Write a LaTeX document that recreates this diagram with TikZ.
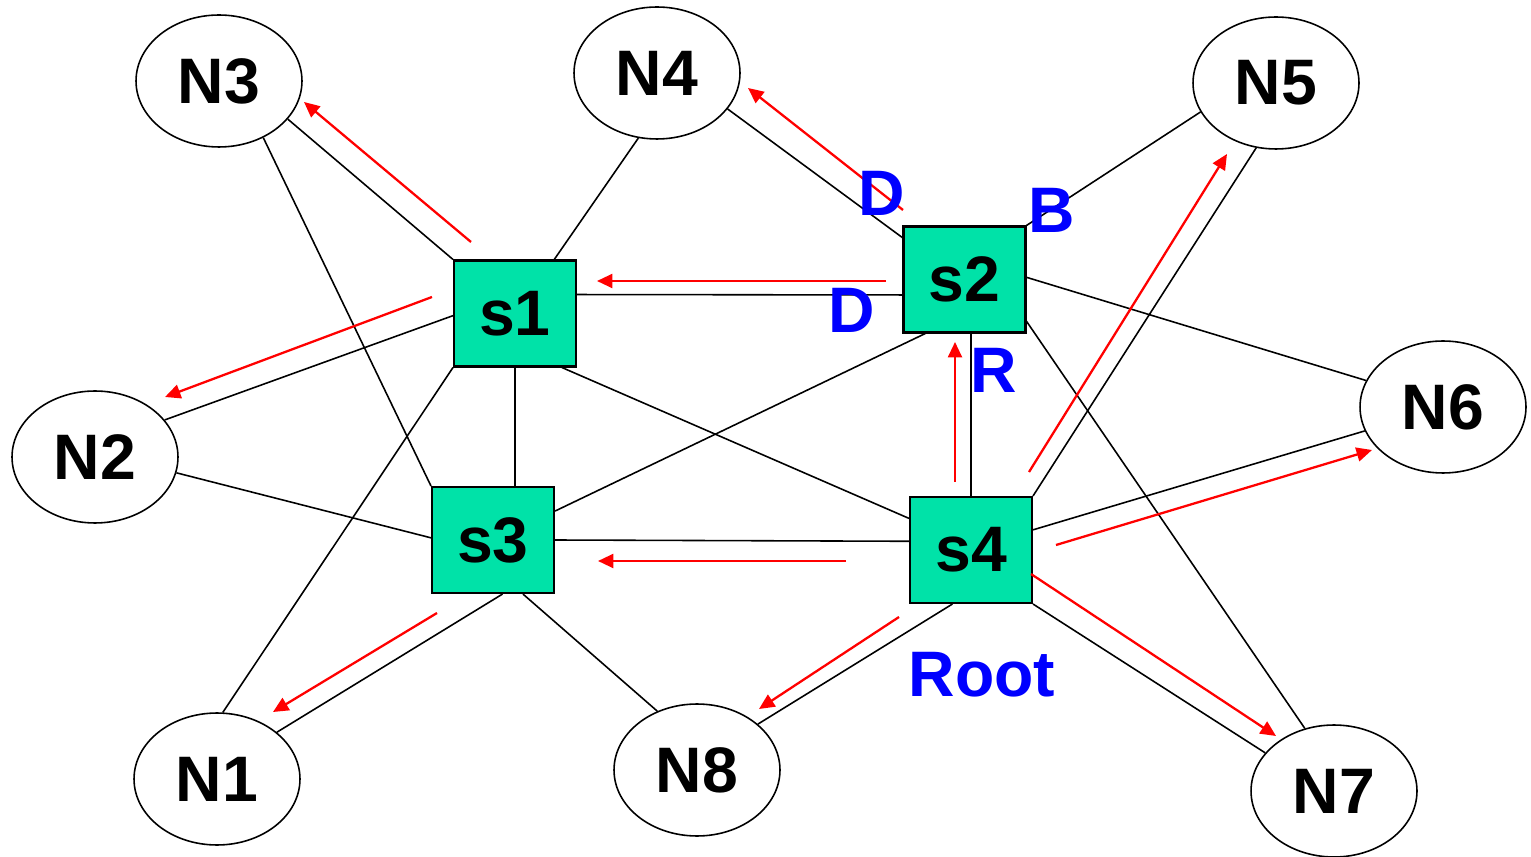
\documentclass[tikz,border=0pt]{standalone}
\usepackage{fontspec}
\setmainfont{Liberation Sans}
\usetikzlibrary{shapes.geometric}
\usetikzlibrary{arrows.meta}
\definecolor{switchgreen}{RGB}{0,226,168}

\begin{document}
\begin{tikzpicture}[x=0.02cm, y=-0.02cm,
		label font/.style={font=\fontsize{36.6}{40}\selectfont\bfseries},
		host/.style={draw, ellipse, line width=0.9pt, minimum width=3.32cm, minimum height=2.64cm, inner sep=0pt, label font},
		switch/.style={draw, rectangle, fill=switchgreen, line width=1.2pt, minimum width=2.44cm, minimum height=2.12cm, inner sep=0pt, label font},
		link/.style={line width=0.9pt},
		flow/.style={red, line width=1.3pt, -{Triangle[length=8.8pt, width=8pt]}},
		tag/.style={blue, inner sep=0pt, label font}]
		\useasboundingbox (0,0) rectangle (1531,857);
		
		\node [host] (N1) at (217,779) {N1}; % Datorerna
		\node [host] (N2) at (95,457) {N2};
		\node [host] (N3) at (219,81) {N3};
		\node [host] (N4) at (657,73) {N4};
		\node [host] (N5) at (1276,83) {N5};
		\node [host] (N6) at (1443,407) {N6};
		\node [host] (N7) at (1334,791) {N7};
		\node [host] (N8) at (697,770) {N8};
		
		\node [switch] (s1) at (515,313.5) {s1}; % Switcharna
		\node [switch] (s2) at (964.5,279.5) {s2};
		\node [switch] (s3) at (493,540) {s3};
		\node [switch] (s4) at (971,550) {s4};
		
		\draw [link] (N3.-29) -- (s1.north west); % Länkarna
		\draw [link] (N3.-52) -- (s3.north west);
		\draw [link] (N4.-106) -- (s1.54);
		\draw [link] (N4.-27) -- (s2.146);
		\draw [link] (N5.201) -- (s2.north east);
		\draw [link] (N5.-107) -- (s4.north east);
		\draw [link] (s1.17) -- (s2.194);
		\draw [link] (s1.182) -- (N2.28);
		\draw [link] (s1.south) -- (s1.south |- s3.north);
		\draw [link] (s1.-49) -- (s4.153);
		\draw [link] (s1.south west) -- (N1.85);
		\draw [link] (s2.234) -- (s3.25);
		\draw [link] (s2.2) -- (N6.161);
		\draw [link] (s2.-34) -- (N7.115);
		\draw [link] (s4.north) -- (s4.north |- s2.south);
		\draw [link] (N2.-11) -- (s3.178);
		\draw [link] (s3.east) -- (s4.172);
		\draw [link] (s3.-80) -- (N1.38);
		\draw [link] (s3.-61) -- (N8.124);
		\draw [link] (s4.18) -- (N6.197);
		\draw [link] (s4.251) -- (N8.37);
		\draw [link] (s4.south east) -- (N7.151);
		
		% Flödet från roten
		\foreach \nm/\ax/\ay/\bx/\by in {toN3/471/242/304/102, toN2/432/297/165/397, toS1/886/281/597/281,
				toN4/903/210/748/88, toS2/955/482/955/342, toN5/1029/472/1227/154, toN6/1056/545/1372/450,
				toN7/1031/574/1276/736, toN8/899/617/759/709, toS3/846/561/598/561, toN1/437/613/273/712} {
			\coordinate (\nm-a) at (\ax,\ay);
			\coordinate (\nm-b) at (\bx,\by);
			\draw [flow] (\nm-a) -- (\nm-b);
		}
		
		\node [tag] (portD1) at (882,193) {D}; % Porttyper
		\node [tag] (portB) at (1052,210) {B};
		\node [tag] (portD2) at (852,310) {D};
		\node [tag] (portR) at (994,370) {R};
		\node [tag] (root) at (982,675) {Root};
	\end{tikzpicture}
\end{document}
